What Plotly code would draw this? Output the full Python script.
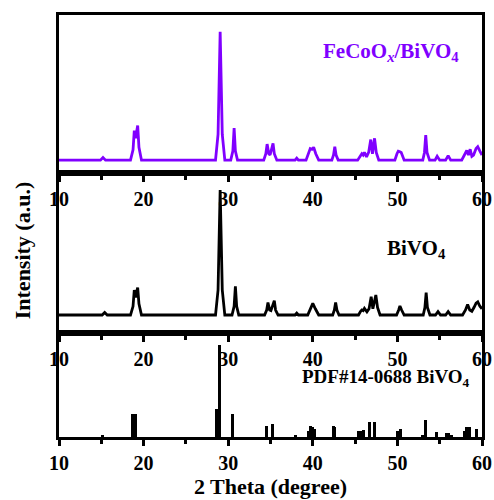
import plotly.graph_objects as go

# ---- FeCoOx/BiVO4 pattern: (2theta, intensity) vertices, main reflection = 100
theta_fecoo = [10.0, 14.9, 15.2, 15.5,
               18.45, 18.75, 18.9, 19.05, 19.3, 19.45, 19.75,
               28.5, 28.8, 29.05, 29.3, 29.6,
               30.3, 30.55, 30.7, 30.85, 31.1,
               34.2, 34.45, 34.6, 34.8, 34.95, 35.3, 35.45, 35.75,
               37.9, 38.1, 38.3,
               39.2, 39.5, 39.7, 39.9, 40.1, 40.35, 40.7,
               42.25, 42.45, 42.6, 42.75, 43.0,
               45.3, 45.6, 45.8, 45.95, 46.1, 46.35, 46.6, 46.85, 47.05, 47.3, 47.5, 47.8,
               49.7, 49.95, 50.1, 50.3, 50.45, 50.8,
               53.0, 53.2, 53.35, 53.5, 53.8,
               54.45, 54.7, 55.0,
               55.7, 56.0, 56.3,
               57.6, 57.95, 58.2, 58.4, 58.6, 58.8, 59.0, 59.3, 59.5, 59.75, 60.0]
counts_fecoo = [0, 0, 2, 0,
                0, 8, 23, 17, 27, 10, 0,
                0, 20, 100, 20, 0,
                0, 7, 25, 7, 0,
                0, 5, 12.5, 5, 4, 13, 5, 0,
                0, 1.5, 0,
                0, 6, 9, 8.5, 10, 5, 0,
                0, 4, 10.5, 4, 0,
                0, 3, 5, 4, 6, 2.5, 6, 16, 5, 17, 6, 0,
                0, 5, 7, 6.5, 6, 0,
                0, 6, 19.5, 6, 0,
                0, 3, 0,
                0, 3.5, 0,
                0, 4, 7.5, 4, 8.5, 3, 4, 9, 10.5, 7, 4]

# ---- BiVO4 pattern
theta_bivo4 = [10.0, 15.1, 15.4, 15.7,
               18.45, 18.75, 18.9, 19.05, 19.3, 19.45, 19.75,
               28.5, 28.8, 29.05, 29.3, 29.6,
               30.45, 30.7, 30.85, 31.0, 31.25,
               34.3, 34.55, 34.7, 34.9, 35.05, 35.45, 35.6, 35.9,
               37.9, 38.1, 38.3,
               39.4, 39.7, 40.0, 40.3, 40.7,
               42.35, 42.55, 42.7, 42.85, 43.1,
               45.4, 45.65, 45.8, 45.95, 46.1, 46.4, 46.65, 46.9, 47.1, 47.45, 47.65, 47.95,
               49.9, 50.15, 50.3, 50.5, 50.8,
               53.05, 53.25, 53.4, 53.55, 53.85,
               54.5, 54.8, 55.1,
               55.7, 56.0, 56.3,
               57.7, 58.05, 58.3, 58.55, 58.8, 59.05, 59.3, 59.5, 59.75, 60.0]
counts_bivo4 = [0, 0, 2, 0,
                0, 7, 20, 14, 22, 9, 0,
                0, 20, 100, 20, 0,
                0, 7, 23, 7, 0,
                0, 4, 10, 4, 3.5, 11.5, 4, 0,
                0, 1.5, 0,
                0, 5, 9.3, 5, 0,
                0, 4, 10, 4, 0,
                0, 3, 4, 3.5, 5.3, 2.5, 5, 14.7, 5, 16, 6, 0,
                0, 4, 7.2, 4, 0,
                0, 6, 17.9, 6, 0,
                0, 2.7, 0,
                0, 2.7, 0,
                0, 4, 8.5, 4, 3, 6, 9.5, 10.5, 7, 5]

# ---- PDF#14-0688 reference lines
pdf_theta = [15.1, 18.65, 19.0, 28.6, 28.95, 30.55, 34.5, 35.25, 38.0,
             39.45, 39.7, 39.95, 40.25, 42.4, 42.55, 45.4, 45.75, 46.0,
             46.7, 47.3, 50.0, 50.35, 53.0, 53.3, 54.6, 55.8, 56.1, 56.4,
             57.9, 58.2, 58.5, 59.3]
pdf_int = [2.5, 25, 25, 30, 100, 25, 12, 14.5, 2.5,
           7, 12, 11, 9, 12, 11, 7, 6.5, 8,
           16.5, 16.5, 7, 8.5, 2.5, 19, 5, 4.5, 4, 2,
           6, 11, 11, 9]

x_ticks = [10, 20, 30, 40, 50, 60]

PURPLE = "#8000ff"
FONT = "Liberation Serif"

fig = go.Figure()
fig.add_trace(go.Scatter(x=theta_fecoo, y=counts_fecoo, mode="lines",
                         line=dict(color=PURPLE, width=2.8),
                         xaxis="x", yaxis="y", showlegend=False))
fig.add_trace(go.Scatter(x=theta_bivo4, y=counts_bivo4, mode="lines",
                         line=dict(color="black", width=2.8),
                         xaxis="x2", yaxis="y2", showlegend=False))
fig.add_trace(go.Bar(x=pdf_theta, y=pdf_int, width=0.34,
                     marker=dict(color="black", line=dict(width=0)),
                     xaxis="x3", yaxis="y3", showlegend=False))

# panel boundaries in paper fraction (bottom to top)
d_bottom = [0.0, 0.2464]
d_mid = [0.2464, 0.6256]
d_top = [0.6256, 1.0]

def xaxis_style(anchor):
    return dict(range=[10, 60], anchor=anchor, tickmode="array",
                tickvals=x_ticks, ticktext=[str(v) for v in x_ticks],
                ticks="outside", ticklen=6, tickwidth=2.5, tickcolor="black",
                minor=dict(dtick=5, tick0=5, ticks="outside", ticklen=4,
                           tickwidth=2.5, tickcolor="black"),
                showline=True, linewidth=2.5, linecolor="black", mirror=True,
                showgrid=False, zeroline=False, automargin=False,
                tickfont=dict(family=FONT, size=20, color="black", weight="bold"))

def yaxis_style(anchor, domain, rng):
    return dict(domain=domain, range=rng, anchor=anchor, automargin=False,
                showticklabels=False, ticks="", showgrid=False, zeroline=False,
                showline=True, linewidth=2.5, linecolor="black", mirror=True)

fig.update_layout(
    width=494, height=500,
    margin=dict(l=59, r=12, t=15, b=63, autoexpand=False),
    paper_bgcolor="white", plot_bgcolor="rgba(0,0,0,0)",
    bargap=0,
    xaxis=xaxis_style("y"),
    yaxis=yaxis_style("x", d_top, [-10, 113]),
    xaxis2=xaxis_style("y2"),
    yaxis2=yaxis_style("x2", d_mid, [-14.4, 113.6]),
    xaxis3=dict(xaxis_style("y3"),
                title=dict(text="2 Theta (degree)", standoff=4,
                           font=dict(family=FONT, size=22, color="black",
                                     weight="bold"))),
    yaxis3=yaxis_style("x3", d_bottom, [0, 113]),
)

label_font = dict(family=FONT, color="black", weight="bold")
fig.add_annotation(text="FeCoO<sub><i>x</i></sub>/BiVO<sub>4</sub>",
                   xref="x", yref="y", x=49.2, y=84, showarrow=False,
                   xanchor="center", yanchor="middle",
                   font=dict(label_font, size=21, color=PURPLE))
fig.add_annotation(text="BiVO<sub>4</sub>", xref="x2", yref="y2",
                   x=52.2, y=53, showarrow=False,
                   xanchor="center", yanchor="middle",
                   font=dict(label_font, size=21))
fig.add_annotation(text="PDF#14-0688 BiVO<sub>4</sub>", xref="x3", yref="y3",
                   x=48.6, y=64, showarrow=False,
                   xanchor="center", yanchor="middle",
                   font=dict(label_font, size=19))
fig.add_annotation(text="Intensity (a.u.)", xref="paper", yref="paper",
                   x=-0.087, y=0.443, textangle=-90, showarrow=False,
                   xanchor="center", yanchor="middle",
                   font=dict(label_font, size=22))

fig.write_html("out.html")
